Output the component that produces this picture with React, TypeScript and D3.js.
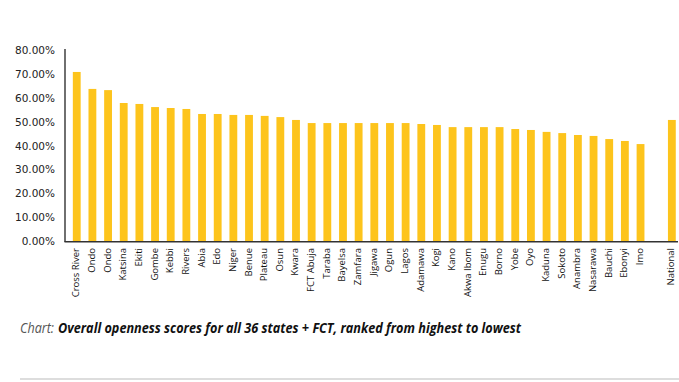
import React from "react";
import * as d3 from "d3";

const states = [
  "Cross River", "Ondo", "Ondo", "Katsina", "Ekiti", "Gombe", "Kebbi", "Rivers", "Abia", "Edo",
  "Niger", "Benue", "Plateau", "Osun", "Kwara", "FCT Abuja", "Taraba", "Bayelsa", "Zamfara", "Jigawa",
  "Ogun", "Lagos", "Adamawa", "Kogi", "Kano", "Akwa Ibom", "Enugu", "Borno", "Yobe", "Oyo",
  "Kaduna", "Sokoto", "Anambra", "Nasarawa", "Bauchi", "Ebonyi", "Imo",
];
const scores = [
  70.8, 63.7, 63.2, 57.8, 57.4, 56.1, 55.7, 55.3, 53.2, 53.2,
  52.8, 52.8, 52.4, 51.9, 50.7, 49.4, 49.4, 49.4, 49.4, 49.4,
  49.4, 49.4, 49.0, 48.6, 47.7, 47.7, 47.7, 47.7, 46.9, 46.5,
  45.7, 45.2, 44.4, 44.0, 42.7, 41.9, 40.6,
];
const nationalLabel = "National";
const nationalScore = 50.7;
const yTicks = [0, 10, 20, 30, 40, 50, 60, 70, 80];
const captionLead = "Chart:";
const captionText = "Overall openness scores for all 36 states + FCT, ranked from highest to lowest";

const W = 679;
const H = 382;

export default function App() {
  const slots = [...states.map((s, i) => `${i}`), "gap", "nat"];
  const data = [
    ...states.map((s, i) => ({ key: `${i}`, label: s, value: scores[i] })),
    { key: "nat", label: nationalLabel, value: nationalScore },
  ];
  const x = d3.scaleBand<string>().domain(slots).range([65, 683.6]).paddingInner(0.5).paddingOuter(0.5);
  const y = d3.scaleLinear().domain([0, 80]).range([241, 50]);
  const fmt = (v: number) => v.toFixed(2) + "%";

  return (
    <svg width={W} height={H} style={{ position: "absolute", left: 0, top: 0, display: "block", background: "#fff" }}>
      {yTicks.map((t) => (
        <text key={t} x={55} y={y(t)} textAnchor="end" dominantBaseline="central"
          fontFamily="DejaVu Sans" fontSize={10.5} fill="#222">{fmt(t)}</text>
      ))}
      {data.map((d) => (
        <rect key={d.key} x={x(d.key)!} y={y(d.value)} width={x.bandwidth()} height={y(0) - y(d.value)} fill="#FDC41C" />
      ))}
      <line x1={65} y1={49} x2={65} y2={242} stroke="#222" strokeWidth={1.3} />
      <line x1={64.5} y1={241.8} x2={678} y2={241.8} stroke="#333" strokeWidth={1.4} />
      {data.map((d) => {
        const cx = x(d.key)! + x.bandwidth() / 2 - 1;
        return (
          <text key={"l" + d.key} transform={`translate(${cx},248) rotate(-90)`} textAnchor="end"
            dominantBaseline="central" fontFamily="Open Sans" fontSize={9.5} fill="#111">{d.label}</text>
        );
      })}
      <text x={20} y={333} fontFamily="Open Sans" fontSize={14} fontStyle="italic" fill="#555"
        textLength={34} lengthAdjust="spacingAndGlyphs">{captionLead}</text>
      <text x={58} y={333} fontFamily="Open Sans" fontSize={14} fontStyle="italic" fontWeight="bold" fill="#111"
        textLength={463} lengthAdjust="spacingAndGlyphs">{captionText}</text>
      <line x1={20} y1={379} x2={679} y2={379} stroke="#bbb" strokeWidth={1} />
    </svg>
  );
}
